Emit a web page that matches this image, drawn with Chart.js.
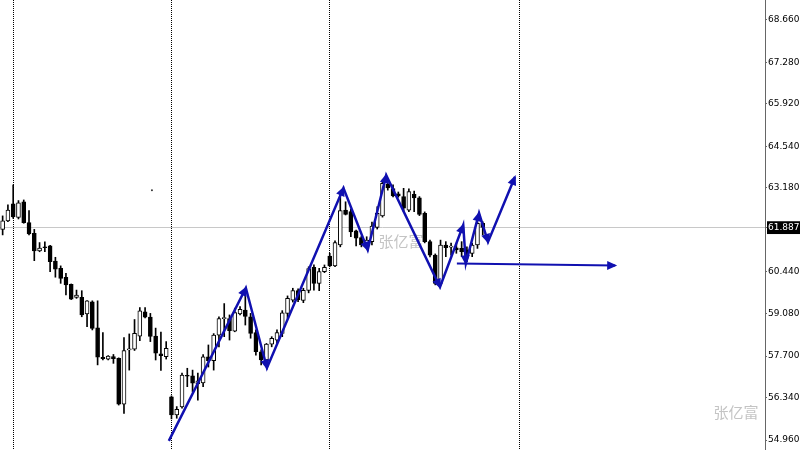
<!DOCTYPE html>
<html>

<head>
    <meta charset="utf-8">
    <title>H4 Candles with Zigzag</title>
    <script src="https://cdn.jsdelivr.net/npm/chart.js"></script>
    <style>
        body { margin: 0; background: #fff; }
    </style>
</head>

<body>
    <!-- Chart Container -->
    <canvas id="price-chart" width="800" height="450"></canvas>

    <script>
        // Candle data (bar index = position in the arrays)
        const opens = [61.83, 62.11, 62.66, 62.22, 62.73, 62.05, 61.70, 61.13, 61.26, 61.29,
            60.80, 60.56, 60.27, 60.04, 59.61, 59.61, 59.07, 59.47, 58.62, 57.66,
            57.60, 57.68, 57.62, 56.13, 57.90, 57.92, 58.35, 59.14, 58.97, 58.35,
            57.77, 57.68, 56.37, 55.78, 56.04, 57.06, 57.05, 56.79, 56.82, 57.67,
            57.55, 58.38, 58.92, 58.92, 58.51, 59.07, 59.20, 58.98, 58.46, 57.84,
            57.57, 58.09, 58.22, 58.44, 59.09, 59.52, 59.83, 59.51, 59.84, 60.59,
            60.07, 60.45, 60.96, 60.64, 61.32, 62.46, 62.41, 61.78, 61.56, 61.35,
            61.43, 61.89, 62.27, 63.30, 63.16, 62.99, 62.90, 62.46, 62.97, 62.86,
            62.35, 61.43, 60.99, 60.07, 61.32, 61.25, 61.23, 61.21, 61.16, 61.05,
            61.32, 62.03];
        const highs = [62.27, 62.63, 63.28, 62.77, 62.79, 62.44, 61.83, 61.40, 61.42, 61.31,
            60.92, 60.64, 60.40, 60.05, 59.85, 59.83, 59.51, 59.50, 59.50, 58.46,
            57.71, 57.75, 57.64, 58.30, 58.42, 58.89, 59.28, 59.28, 59.09, 58.61,
            58.48, 58.17, 56.40, 56.05, 57.14, 57.30, 57.24, 57.14, 57.75, 58.06,
            58.43, 58.98, 59.41, 59.04, 59.26, 59.31, 59.85, 59.09, 58.55, 57.90,
            58.11, 58.33, 58.55, 59.18, 59.66, 59.91, 59.89, 59.91, 60.61, 60.67,
            60.56, 60.67, 61.05, 61.46, 62.95, 62.73, 62.49, 61.81, 61.61, 61.59,
            62.07, 62.57, 63.44, 63.44, 63.28, 63.05, 63.17, 63.15, 63.08, 62.90,
            62.40, 61.48, 61.03, 61.48, 61.43, 61.38, 61.38, 61.43, 61.26, 61.38,
            62.08, 62.08];
        const lows = [61.65, 62.08, 62.19, 62.17, 62.03, 61.65, 60.81, 61.10, 61.10, 60.45,
            60.27, 60.07, 59.69, 59.54, 59.58, 58.98, 58.66, 58.55, 57.41, 57.57,
            57.57, 57.46, 56.10, 55.83, 57.24, 57.88, 58.20, 58.94, 58.17, 57.57,
            57.23, 57.60, 55.65, 55.67, 56.00, 56.70, 56.53, 56.26, 56.70, 57.34,
            57.24, 58.00, 58.33, 58.22, 58.49, 59.04, 58.71, 58.28, 57.73, 57.41,
            57.46, 58.00, 58.11, 58.33, 58.93, 59.46, 59.47, 59.44, 59.76, 59.85,
            59.83, 60.42, 60.61, 60.61, 61.26, 62.30, 61.59, 61.29, 61.26, 61.26,
            61.32, 61.84, 62.23, 63.11, 62.89, 62.88, 62.41, 62.41, 62.41, 62.28,
            61.39, 60.93, 60.02, 60.02, 60.94, 60.99, 61.05, 60.94, 60.78, 60.94,
            61.21, 61.65];
        const closes = [62.11, 62.46, 62.24, 62.70, 62.05, 61.68, 61.13, 61.22, 61.23, 60.78,
            60.53, 60.23, 60.02, 59.55, 59.69, 59.04, 59.50, 58.60, 57.66, 57.61,
            57.70, 57.61, 56.13, 57.88, 57.93, 58.44, 59.17, 58.97, 58.34, 57.79,
            57.71, 57.95, 55.78, 55.96, 57.08, 57.04, 56.81, 56.89, 57.67, 57.55,
            58.38, 58.92, 58.93, 58.53, 59.12, 59.22, 58.99, 58.44, 57.84, 57.57,
            58.09, 58.28, 58.46, 59.11, 59.58, 59.83, 59.54, 59.84, 60.55, 60.07,
            60.45, 60.59, 60.64, 61.40, 62.44, 62.32, 61.75, 61.54, 61.32, 61.48,
            61.94, 62.35, 63.33, 63.18, 62.92, 62.92, 62.52, 63.06, 62.86, 62.32,
            61.43, 60.99, 60.07, 61.32, 61.23, 61.26, 61.16, 61.10, 61.05, 61.32,
            62.03, 61.89];

        // Zigzag arrows drawn on the chart (bar index, price)
        const zigzagX = [31.5, 46.1, 50.1, 64.6, 69.2, 72.7, 82.9, 87.3, 87.8, 90.3, 92.0, 97.1];
        const zigzagY = [54.93, 59.92, 57.31, 63.18, 61.16, 63.60, 59.95, 61.97, 60.72, 62.36, 61.42, 63.54];
        const levelX = [86.1, 116.1];
        const levelY = [60.72, 60.65];
        const dotX = [28.3];
        const dotY = [63.11];

        // Axis data
        const barSlots = 145;
        const separators = [2, 32, 62, 98];
        const yTicks = [54.96, 56.34, 57.70, 59.08, 60.44, 61.887, 63.18, 64.54, 65.92, 67.28, 68.66];
        const lastPrice = 61.887;
        const watermark = '张亿富';

        const lineBlue = '#1010b0';
        const idx = opens.map((_, i) => i);

        // Arrowheads at the end of every arrow segment
        const arrowHeads = {
            id: 'arrowHeads',
            afterDatasetsDraw(chart) {
                const ctx = chart.ctx;
                ctx.save();
                ctx.fillStyle = lineBlue;
                [2, 3].forEach(di => {
                    const pts = chart.getDatasetMeta(di).data;
                    for (let i = 1; i < pts.length; i++) {
                        const a = pts[i - 1], b = pts[i];
                        const ang = Math.atan2(b.y - a.y, b.x - a.x);
                        const dx = Math.cos(ang), dy = Math.sin(ang);
                        const len = 10, half = 4.5;
                        const tipX = b.x + dx * 2, tipY = b.y + dy * 2;
                        ctx.beginPath();
                        ctx.moveTo(tipX, tipY);
                        ctx.lineTo(tipX - dx * len - dy * half, tipY - dy * len + dx * half);
                        ctx.lineTo(tipX - dx * len + dy * half, tipY - dy * len - dx * half);
                        ctx.closePath();
                        ctx.fill();
                    }
                });
                ctx.restore();
            }
        };

        // Grey watermark behind the candles
        const watermarkText = {
            id: 'watermarkText',
            beforeDatasetsDraw(chart) {
                const ctx = chart.ctx;
                ctx.save();
                ctx.font = '15px "Noto Sans CJK SC"';
                ctx.fillStyle = '#c4c4c4';
                ctx.textAlign = 'center';
                ctx.textBaseline = 'middle';
                ctx.fillText(watermark, 401, 241);
                ctx.fillText(watermark, 736, 412);
                ctx.restore();
            }
        };

        const ctx = document.getElementById('price-chart').getContext('2d');
        new Chart(ctx, {
            type: 'bar',
            data: {
                datasets: [
                    {
                        // wicks
                        data: idx.map(i => ({ x: i, y: [lows[i], highs[i]] })),
                        backgroundColor: '#000',
                        barThickness: 1,
                        grouped: false,
                        order: 4
                    },
                    {
                        // bodies
                        data: idx.map(i => ({ x: i, y: [opens[i], closes[i]] })),
                        backgroundColor: c => closes[c.dataIndex] >= opens[c.dataIndex] ? '#fff' : '#000',
                        borderColor: '#000',
                        borderWidth: 1,
                        borderSkipped: false,
                        barThickness: 4,
                        minBarLength: 1,
                        grouped: false,
                        order: 3
                    },
                    {
                        type: 'line',
                        data: zigzagX.map((x, i) => ({ x: x, y: zigzagY[i] })),
                        borderColor: lineBlue,
                        borderWidth: 2.5,
                        pointRadius: 0,
                        tension: 0,
                        order: 1
                    },
                    {
                        type: 'line',
                        data: levelX.map((x, i) => ({ x: x, y: levelY[i] })),
                        borderColor: lineBlue,
                        borderWidth: 2,
                        pointRadius: 0,
                        tension: 0,
                        order: 1
                    },
                    {
                        type: 'line',
                        data: dotX.map((x, i) => ({ x: x, y: dotY[i] })),
                        showLine: false,
                        pointRadius: 1,
                        pointBorderWidth: 0,
                        pointBackgroundColor: '#333',
                        order: 2
                    }
                ]
            },
            options: {
                responsive: false,
                animation: false,
                devicePixelRatio: 1,
                layout: { padding: 0, autoPadding: false },
                plugins: {
                    legend: { display: false },
                    tooltip: { enabled: false }
                },
                scales: {
                    x: {
                        type: 'linear',
                        min: -0.5,
                        max: barSlots - 0.5,
                        offset: false,
                        afterBuildTicks: s => { s.ticks = separators.map(v => ({ value: v })); },
                        afterFit: s => { s.height = 0; s.paddingLeft = 0; s.paddingRight = 0; },
                        ticks: { display: false },
                        grid: { offset: false, drawTicks: false, color: '#000', lineWidth: 1 },
                        border: { display: false, dash: [1, 1] }
                    },
                    y: {
                        position: 'right',
                        min: 54.634,
                        max: 69.312,
                        afterBuildTicks: s => { s.ticks = yTicks.map(v => ({ value: v })); },
                        afterFit: s => { s.width = 35; s.paddingTop = 0; s.paddingBottom = 0; },
                        border: { display: true, color: '#666', width: 1 },
                        grid: {
                            color: c => c.tick && c.tick.value === lastPrice ? '#c8c8c8' : 'rgba(0,0,0,0)',
                            tickColor: '#666',
                            tickLength: 2
                        },
                        ticks: {
                            autoSkip: false,
                            padding: 1,
                            callback: v => v.toFixed(3),
                            color: c => c.tick && c.tick.value === lastPrice ? '#fff' : '#000',
                            font: { family: 'DejaVu Sans', size: 9 },
                            showLabelBackdrop: c => !!(c.tick && c.tick.value === lastPrice),
                            backdropColor: '#000',
                            backdropPadding: { x: 1, y: 1 }
                        }
                    }
                }
            },
            plugins: [watermarkText, arrowHeads]
        });
    </script>
</body>

</html>
